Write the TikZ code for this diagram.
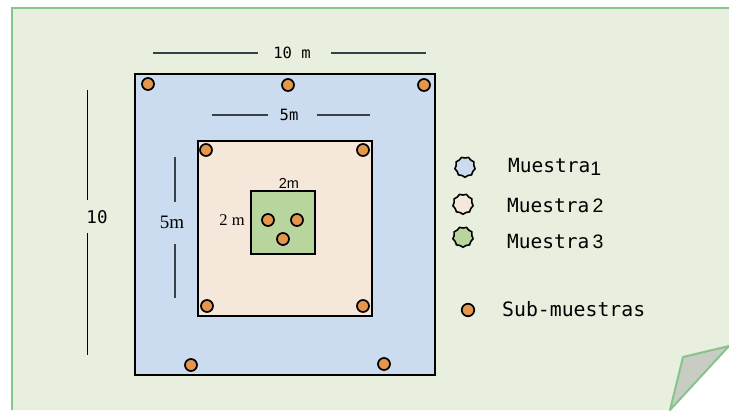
\documentclass[tikz,border=0pt]{standalone}
\usepackage{fontspec}
\setmainfont{Liberation Serif}
\setsansfont{Liberation Sans}
\setmonofont{DejaVu Sans Mono}
\usetikzlibrary{shapes.geometric}

\definecolor{paper}{HTML}{E9EFDF}
\definecolor{edge}{HTML}{86C48C}
\definecolor{fold}{HTML}{C9CCC3}
\definecolor{plotA}{HTML}{CCDCF0}
\definecolor{plotB}{HTML}{F6E7DB}
\definecolor{plotC}{HTML}{B9D59E}
\definecolor{pin}{HTML}{E4964C}
\definecolor{dimline}{HTML}{3A4048}

\begin{document}
\begin{tikzpicture}[x=1bp, y=-1bp,
  sub/.style={draw, circle, fill=pin, line width=1.7bp, minimum size=12bp, inner sep=0pt},
  legmark/.style={draw, star, star points=9, star point ratio=0.88, minimum size=18bp, inner sep=0pt, line width=1.6bp},
  dim/.style={draw=dimline, line width=1.4bp},
  mono/.style={font=\ttfamily\fontsize{#1}{#1}\selectfont, inner sep=0pt}
]
\useasboundingbox (0,0) rectangle (729,410);

% paper sheet with curled corner
\fill[paper] (12,8) -- (729,8) -- (729,346) -- (670,410) -- (12,410) -- cycle;
\draw[edge, line width=2.2bp] (12,410) -- (12,8) -- (729,8);
\filldraw[fill=fold, draw=edge, line width=2bp, line join=round] (683,357) -- (729,346) -- (670,410) -- cycle;

% the three plots
\draw[fill=plotA, line width=2bp] (135,74) rectangle (435,375);
\draw[fill=plotB, line width=2bp] (198,141) rectangle (372,316);
\draw[fill=plotC, line width=1.8bp] (251,191) rectangle (315,254);

% sub-samples
\node[sub] (a1) at (148,84) {};
\node[sub] (a2) at (288,85) {};
\node[sub] (a3) at (424,85) {};
\node[sub] (a4) at (191,365) {};
\node[sub] (a5) at (384,364) {};
\node[sub] (b1) at (206,150) {};
\node[sub] (b2) at (363,150) {};
\node[sub] (b3) at (207,306) {};
\node[sub] (b4) at (363,306) {};
\node[sub] (c1) at (268,220) {};
\node[sub] (c2) at (297,220) {};
\node[sub] (c3) at (283,239) {};

% dimensions
\node[mono=15.5bp] (w10) at (292,53) {10 m};
\coordinate (w10a) at (153,53);
\coordinate (w10b) at (426,53);
\draw[dim] (w10a) -- (258,53);
\draw[dim] (331,53) -- (w10b);

\node[mono=15.5bp] (w5) at (289,115) {5m};
\coordinate (w5a) at (212,115);
\coordinate (w5b) at (370,115);
\draw[dim] (w5a) -- (268,115);
\draw[dim] (317,115) -- (w5b);

\node[mono=17.5bp] (h10) at (97,217) {10};
\draw[black, line width=1bp] (87,90) -- (87,200);
\draw[black, line width=1bp] (87,233) -- (87,355);

\node[font=\fontsize{19bp}{19bp}\selectfont, inner sep=0pt] (h5) at (172,222) {5m};
\draw[dim] (175,157) -- (175,202);
\draw[dim] (175,244) -- (175,298);

\node[font=\fontsize{16.5bp}{16.5bp}\selectfont, inner sep=0pt] (h2) at (232,220) {2 m};
\node[font=\sffamily\fontsize{14.5bp}{14.5bp}\selectfont, inner sep=0pt] (w2) at (289,183) {2m};

% legend
\node[legmark, fill=plotA] (k1) at (465,167) {};
\node[legmark, fill=plotB] (k2) at (463,204) {};
\node[legmark, fill=plotC] (k3) at (463,237) {};
\node[sub, minimum size=12.5bp] (k4) at (468,310) {};
\node[mono=19.5bp, anchor=west] (t1) at (508,167) {Muestra\raisebox{-3bp}{\sffamily 1}};
\node[mono=19.5bp, anchor=west] (t2) at (507,206) {Muestra\,{\sffamily 2}};
\node[mono=19.5bp, anchor=west] (t3) at (507,242) {Muestra\,{\sffamily 3}};
\node[mono=19.8bp, anchor=west] (t4) at (502,309) {Sub-muestras};
\end{tikzpicture}
\end{document}
